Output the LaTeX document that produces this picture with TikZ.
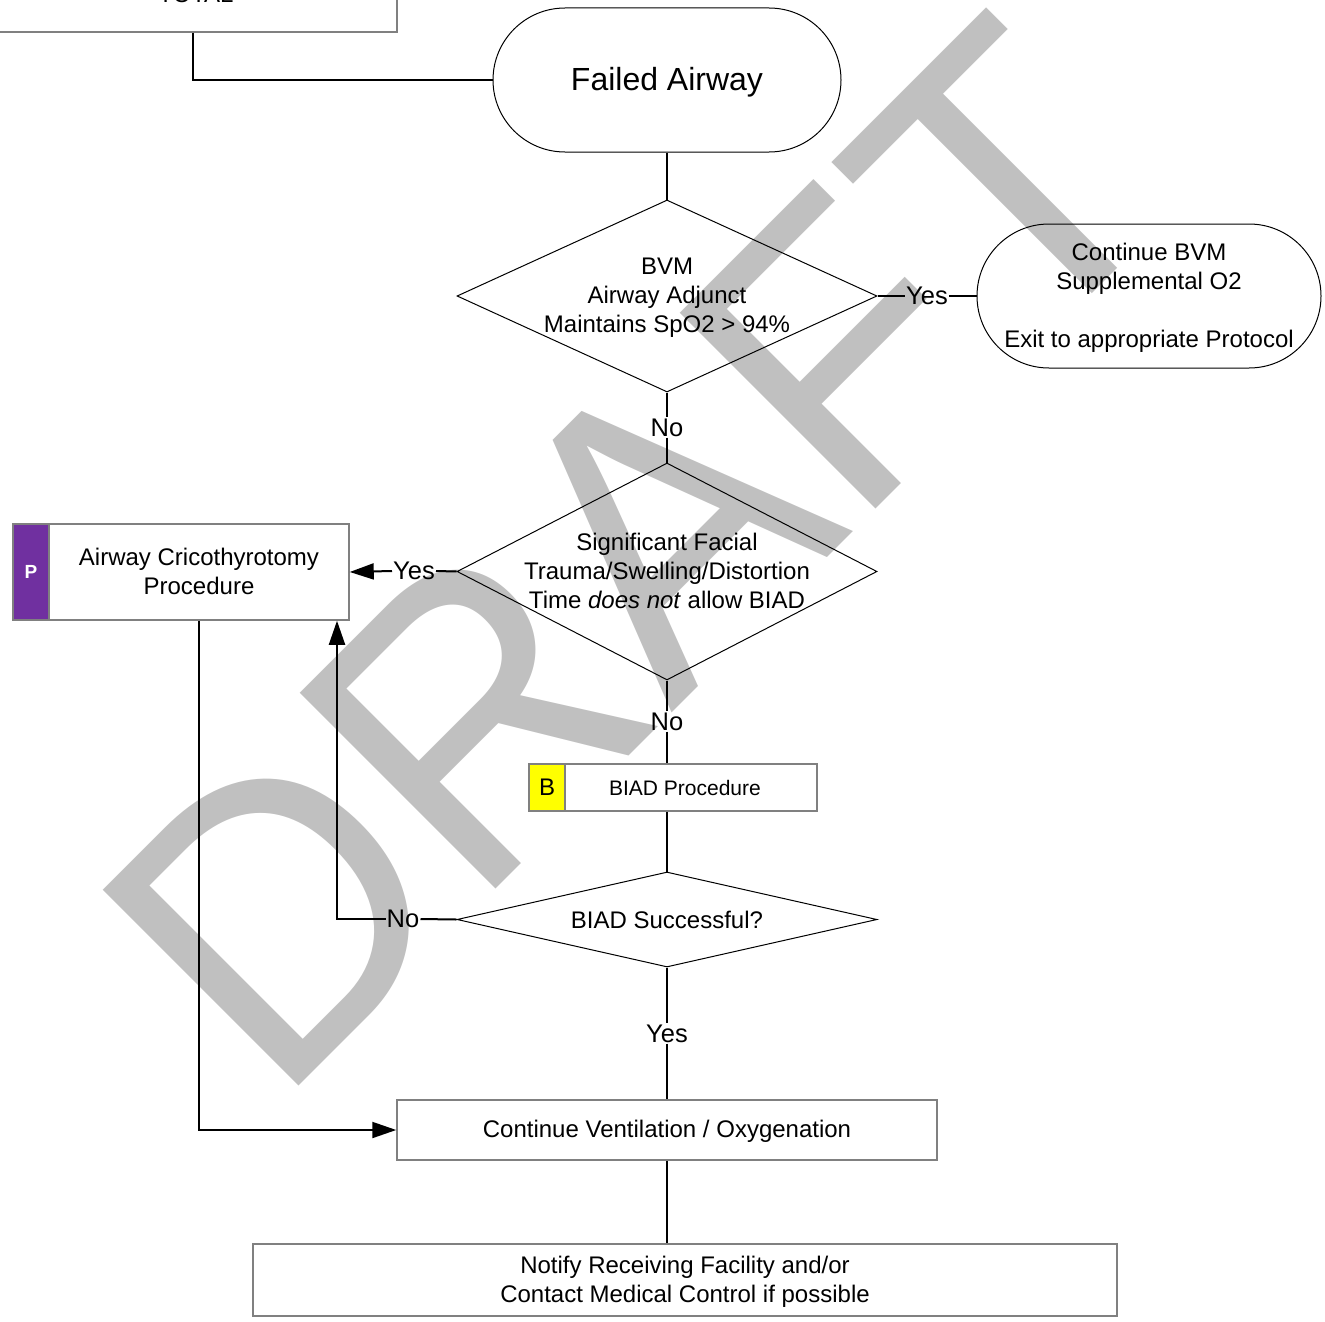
\documentclass[tikz,border=0pt]{standalone}
\usepackage{fontspec}
\setmainfont{Liberation Sans}
\usetikzlibrary{arrows.meta,shapes.geometric}
\definecolor{wm}{HTML}{C0C0C0}
\definecolor{boxgray}{HTML}{808080}
\definecolor{ppurple}{HTML}{7030A0}
\definecolor{byellow}{HTML}{FFFF00}
\begin{document}
\begin{tikzpicture}[x=1pt,y=-1pt,
  conn/.style={line width=2pt, black},
  arr/.style={conn, -{Triangle[length=24pt,width=16pt]}},
  lbl/.style={inner sep=1pt, font=\fontsize{25.5}{30}\selectfont},
  txt/.style={inner sep=0pt, align=center, font=\fontsize{24}{29}\selectfont},
  dia/.style={diamond, draw, line width=1pt, inner sep=0pt},
  stad/.style={rectangle, draw, line width=1pt, rounded corners=72pt, minimum height=144pt},
  procbox/.style={rectangle, draw=boxgray, line width=1.5pt},
  badge/.style={rectangle, draw=boxgray, line width=1.5pt, minimum width=36pt}
]
\useasboundingbox (0,0) rectangle (1325,1322);
% watermark
\node[rotate=45, anchor=base west, inner sep=0pt, text=wm, font=\fontsize{387}{387}\selectfont] (wmk) at (276,1109) {\scalebox{1}[1.04]{DRAFT}};

% top-left box (cut off)
\node[procbox, minimum width=408pt, minimum height=72pt] (tl) at (193,-4) {};
\node[txt, anchor=base] (tltxt) at (196,3) {TOTAL};

% shapes
\node[stad, minimum width=348pt] (fa) at (667,80) {};
\node[txt, font=\fontsize{32}{38}\selectfont] (fat) at (667,82.5) {Failed Airway};
\node[dia, minimum width=420pt, minimum height=192pt] (d1) at (667,296) {};
\node[txt] (d1t) at (667,298) {BVM\\Airway Adjunct\\Maintains SpO2 > 94\%};
\node[stad, minimum width=344pt] (cbvm) at (1149,296) {};
\node[txt] (cbvmt) at (1149,297.5) {Continue BVM\\Supplemental O2\\\mbox{}\\Exit to appropriate Protocol};

\node[dia, minimum width=420pt, minimum height=217pt] (d2) at (667,571.5) {};
\node[txt] (d2t) at (667,571) {Significant Facial\\Trauma/Swelling/Distortion\\Time \textit{does not} allow BIAD};

\node[procbox, minimum width=300pt, minimum height=96pt] (crico) at (199,572) {};
\node[txt] (cricot) at (199,571) {Airway Cricothyrotomy\\Procedure};
\node[badge, fill=ppurple, minimum height=96pt, text=white, font=\bfseries\fontsize{19}{21}\selectfont] (pb) at (31,572) {P};

\node[procbox, minimum width=288pt, minimum height=47pt] (biad) at (673,787.5) {};
\node[badge, fill=byellow, minimum height=47pt, font=\fontsize{24}{29}\selectfont] (bb) at (547,787.5) {B};
\node[txt, font=\fontsize{21}{25}\selectfont] (biadt) at (685,787.5) {BIAD Procedure};

\node[dia, minimum width=420pt, minimum height=95pt] (d3) at (667,919.5) {};
\node[txt] (d3t) at (667,919.5) {BIAD Successful?};

\node[procbox, minimum width=540pt, minimum height=60pt] (cv) at (667,1130) {};
\node[txt] (cvt) at (667,1131) {Continue Ventilation / Oxygenation};
\node[procbox, minimum width=864pt, minimum height=72pt] (nt) at (685,1280) {};
\node[txt] (ntt) at (685,1281.5) {Notify Receiving Facility and/or\\Contact Medical Control if possible};

% labels
\node[lbl] (y1) at (927,296) {Yes};
\node[lbl] (n1) at (667,427.5) {No};
\node[lbl] (y2) at (414,571) {Yes};
\node[lbl] (n2) at (667,721.5) {No};
\node[lbl] (n3) at (403,919) {No};
\node[lbl] (y3) at (667,1033.5) {Yes};
\coordinate (k) at (337,919);

% connectors
\draw[conn] (tl.south) |- (fa.west);
\draw[conn] (fa.south) -- (d1.north);
\draw[conn] (d1.east) -- (y1.west);
\draw[conn] (y1.east) -- (cbvm.west);
\draw[conn] (d1.south) -- (n1.north);
\draw[conn] (n1.south) -- (d2.north);
\draw[conn] (d2.west) -- (y2.east);
\draw[arr] (y2.west) -- (crico.east);
\draw[conn] (d2.south) -- (n2.north);
\draw[conn] (n2.south) -- (d2.south |- biad.north);
\draw[conn] (d2.south |- biad.south) -- (d3.north);
\draw[conn] (d3.west) -- (n3.east);
\draw[arr] (n3.west) -- (k) -- (k |- crico.south);
\draw[conn] (d3.south) -- (y3.north);
\draw[conn] (y3.south) -- (cv.north);
\draw[arr] (crico.south) |- (cv.west);
\draw[conn] (cv.south) -- (cv.south |- nt.north);
\end{tikzpicture}
\end{document}
